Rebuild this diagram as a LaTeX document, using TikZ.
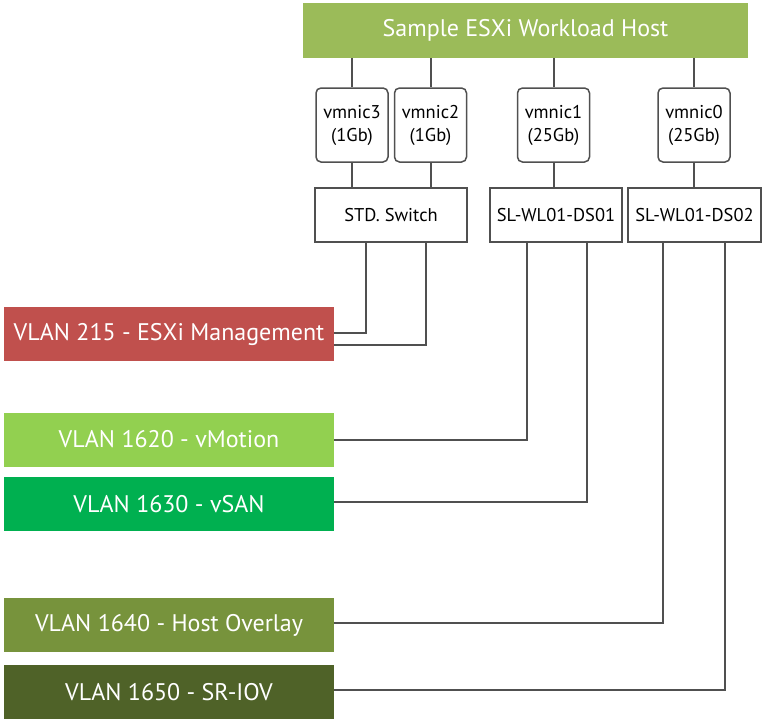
\documentclass[tikz,border=0pt]{standalone}
\usepackage{fontspec}
\setmainfont{PT Sans}
\definecolor{hostgreen}{HTML}{9BBB59}
\definecolor{mgmtred}{HTML}{C0504D}
\definecolor{vmotiongreen}{HTML}{92D050}
\definecolor{vsangreen}{HTML}{00B050}
\definecolor{overlaygreen}{HTML}{77933C}
\definecolor{sriovgreen}{HTML}{4F6228}
\definecolor{wiregray}{HTML}{505050}
\begin{document}
\begin{tikzpicture}[x=1pt,y=-1pt,
    hostbox/.style={fill=hostgreen, text=white, minimum width=445pt, minimum height=55pt,
      inner sep=0pt, font=\fontsize{24}{28}\selectfont},
    nicbox/.style={draw=wiregray, line width=1.5pt, rounded corners=5pt, fill=white,
      minimum width=72pt, minimum height=74pt, inner sep=0pt, align=center,
      font=\fontsize{18.5}{23}\selectfont},
    switchbox/.style={draw=wiregray, line width=1.5pt, fill=white, minimum height=54pt,
      inner sep=0pt, font=\fontsize{18.5}{23}\selectfont},
    vlanbox/.style={minimum width=330pt, minimum height=54pt, inner sep=0pt, text=white,
      font=\fontsize{24}{28}\selectfont},
    link/.style={draw=wiregray, line width=2pt}]
    \useasboundingbox (0,0) rectangle (764,723);

    % Host
    \node[hostbox] (host) at (525.5,30.5) {Sample ESXi Workload Host};

    % Physical NICs
    \node[nicbox] (nic3) at (352,125) {vmnic3\\(1Gb)};
    \node[nicbox] (nic2) at (430.5,125) {vmnic2\\(1Gb)};
    \node[nicbox] (nic1) at (553.5,125) {vmnic1\\(25Gb)};
    \node[nicbox] (nic0) at (694,125) {vmnic0\\(25Gb)};

    % Switches
    \node[switchbox, minimum width=152pt] (stdsw) at (391,215) {STD. Switch};
    \node[switchbox, minimum width=132pt] (ds01) at (556,215) {SL-WL01-DS01};
    \node[switchbox, minimum width=133pt] (ds02) at (694.5,215) {SL-WL01-DS02};

    % VLANs
    \node[vlanbox, fill=mgmtred] (vlan215) at (169,334) {VLAN 215 - ESXi Management};
    \node[vlanbox, fill=vmotiongreen] (vlan1620) at (169,439.5) {VLAN 1620 - vMotion};
    \node[vlanbox, fill=vsangreen] (vlan1630) at (169,504) {VLAN 1630 - vSAN};
    \node[vlanbox, fill=overlaygreen] (vlan1640) at (169,625) {VLAN 1640 - Host Overlay};
    \node[vlanbox, fill=sriovgreen] (vlan1650) at (169,692) {VLAN 1650 - SR-IOV};

    % Host to NICs
    \foreach \nic in {nic3,nic2,nic1,nic0}
      \draw[link] (host.south -| \nic.north) -- (\nic.north);

    % NICs to switches
    \draw[link] (nic3.south) -- (nic3.south |- stdsw.north);
    \draw[link] (nic2.south) -- (nic2.south |- stdsw.north);
    \draw[link] (nic1.south) -- (nic1.south |- ds01.north);
    \draw[link] (nic0.south) -- (nic0.south |- ds02.north);

    % Switches to VLANs
    \draw[link] ([xshift=-25pt]stdsw.south) |- ([yshift=1pt]vlan215.east);
    \draw[link] ([xshift=35pt]stdsw.south) |- ([yshift=-11pt]vlan215.east);
    \draw[link] ([xshift=-29pt]ds01.south) |- (vlan1620.east);
    \draw[link] ([xshift=31pt]ds01.south) |- ([yshift=2pt]vlan1630.east);
    \draw[link] ([xshift=-32pt]ds02.south) |- ([yshift=2pt]vlan1640.east);
    \draw[link] ([xshift=30pt]ds02.south) |- ([yshift=2pt]vlan1650.east);
\end{tikzpicture}
\end{document}
